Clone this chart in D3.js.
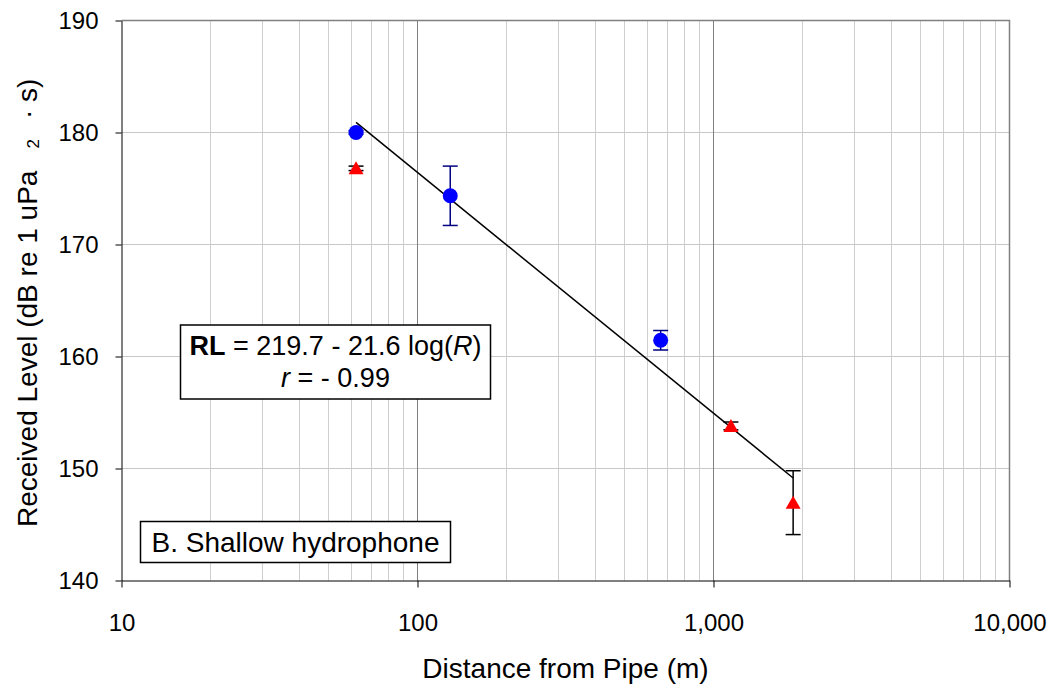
<!DOCTYPE html>
<html>
<head>
<meta charset="utf-8">
<script src="https://cdn.jsdelivr.net/npm/d3@7"></script>
<style>
  body { margin: 0; background: #fff; }
  svg { font-family: "Liberation Sans", Arial, sans-serif; }
</style>
</head>
<body>
<svg id="chart"></svg>
<script>
// blue circles (series 1)
var blueDist = [62, 129, 663];
var blueLevel = [180.0, 174.35, 161.45];
var blueErr = [0.15, 2.65, 0.87];

// red triangles (series 2)
var redDist = [62, 1145, 1858];
var redLevel = [176.8, 153.8, 146.95];
var redErr = [0.2, 0.35, 2.85];

// fitted line end points
var fitDist = [62, 1858];
var fitLevel = [180.9, 149.15];

var xTicks = [10, 100, 1000, 10000];
var yTicks = [140, 150, 160, 170, 180, 190];

var svgWidth = 1055, svgHeight = 688;
var margin = { top: 20.5, right: 45.5, bottom: 107.5, left: 121.5 };
var width = svgWidth - margin.left - margin.right;
var height = svgHeight - margin.top - margin.bottom;

var svg = d3.select('#chart')
    .attr("width", svgWidth)
    .attr("height", svgHeight);

var g = svg.append("g")
    .attr("transform", "translate(" + margin.left + "," + margin.top + ")");

var x = d3.scaleLog().domain([10, 10000]).range([0, width]);
var y = d3.scaleLinear().domain([140, 190]).range([height, 0]);

// minor vertical grid
var minor = x.ticks().filter(function(d) { return xTicks.indexOf(d) < 0; });
g.selectAll(".vminor")
    .data(minor)
    .enter().append("line")
    .attr("x1", function(d) { return Math.round(x(d)); })
    .attr("x2", function(d) { return Math.round(x(d)); })
    .attr("y1", 0).attr("y2", height)
    .attr("stroke", "#cfcfcf").attr("stroke-width", 1);

// horizontal grid
g.selectAll(".hgrid")
    .data(yTicks.slice(1, -1))
    .enter().append("line")
    .attr("x1", 0).attr("x2", width)
    .attr("y1", function(d) { return Math.round(y(d)); })
    .attr("y2", function(d) { return Math.round(y(d)); })
    .attr("stroke", "#c8c8c8").attr("stroke-width", 1);

// major vertical grid
g.selectAll(".vmajor")
    .data([100, 1000])
    .enter().append("line")
    .attr("x1", function(d) { return Math.round(x(d)); })
    .attr("x2", function(d) { return Math.round(x(d)); })
    .attr("y1", 0).attr("y2", height)
    .attr("stroke", "#808080").attr("stroke-width", 1);

// top and right frame
g.append("path")
    .attr("d", "M0,0H" + width + "V" + height)
    .attr("fill", "none")
    .attr("stroke", "#808080")
    .attr("stroke-width", 1.5);

// axes
var xAxis = g.append("g")
    .attr("transform", "translate(0," + height + ")")
    .call(d3.axisBottom(x).tickValues(xTicks).tickFormat(d3.format(","))
        .tickSize(7).tickSizeOuter(0).tickPadding(26));

var yAxis = g.append("g")
    .call(d3.axisLeft(y).tickValues(yTicks).tickSize(6).tickSizeOuter(0).tickPadding(17));

[xAxis, yAxis].forEach(function(a) {
    a.select(".domain").attr("stroke", "#000");
    a.selectAll(".tick line").attr("stroke", "#000");
    a.selectAll("text")
        .attr("fill", "#000")
        .style("font-size", "24px")
        .style("font-family", '"Liberation Sans", Arial, sans-serif');
});

// axis titles
g.append("text")
    .attr("x", width / 2)
    .attr("y", height + 97)
    .attr("text-anchor", "middle")
    .style("font-size", "28px")
    .text("Distance from Pipe (m)");

var yt = svg.append("text")
    .attr("transform", "translate(37,527) rotate(-90)")
    .attr("text-anchor", "start")
    .style("font-size", "28px");
yt.append("tspan").text("Received Level (dB re 1 uPa");
yt.append("tspan").attr("dx", 22).attr("dy", 2).style("font-size", "17px").text("2");
yt.append("tspan").attr("dx", 20).attr("dy", -2).text("·");
yt.append("tspan").text(" s)");

// fitted line
g.append("path")
    .datum(d3.zip(fitDist, fitLevel))
    .attr("fill", "none")
    .attr("stroke", "#000")
    .attr("stroke-width", 1.5)
    .attr("d", d3.line()
        .x(function(d) { return x(d[0]); })
        .y(function(d) { return y(d[1]); }));

function errorBars(dist, level, err, color) {
    var eg = g.append("g").attr("stroke", color).attr("stroke-width", 1.5);
    dist.forEach(function(d, i) {
        var cx = x(d), y1 = y(level[i] + err[i]), y2 = y(level[i] - err[i]);
        eg.append("line").attr("x1", cx).attr("x2", cx).attr("y1", y1).attr("y2", y2);
        eg.append("line").attr("x1", cx - 7.5).attr("x2", cx + 7.5).attr("y1", y1).attr("y2", y1);
        eg.append("line").attr("x1", cx - 7.5).attr("x2", cx + 7.5).attr("y1", y2).attr("y2", y2);
    });
}

errorBars(blueDist, blueLevel, blueErr, "#000080");
errorBars(redDist, redLevel, redErr, "#000");

// blue circles
g.selectAll(".blue")
    .data(d3.zip(blueDist, blueLevel))
    .enter().append("circle")
    .attr("cx", function(d) { return x(d[0]); })
    .attr("cy", function(d) { return y(d[1]); })
    .attr("r", 7.5)
    .attr("fill", "#0000ff");

// red triangles
g.selectAll(".red")
    .data(d3.zip(redDist, redLevel))
    .enter().append("path")
    .attr("transform", function(d) { return "translate(" + x(d[0]) + "," + y(d[1]) + ")"; })
    .attr("d", "M0,-7L7.5,6L-7.5,6Z")
    .attr("fill", "#ff0000");

// equation box
var eq = g.append("g").attr("transform", "translate(" + (180.5 - margin.left) + "," + (325 - margin.top) + ")");
eq.append("rect")
    .attr("width", 310).attr("height", 74)
    .attr("fill", "#fff").attr("stroke", "#000").attr("stroke-width", 1.5);
var l1 = eq.append("text").attr("x", 155).attr("y", 30)
    .attr("text-anchor", "middle").style("font-size", "27px");
l1.append("tspan").style("font-weight", "bold").text("RL");
l1.append("tspan").text(" = 219.7 - 21.6 log(");
l1.append("tspan").style("font-style", "italic").text("R");
l1.append("tspan").text(")");
var l2 = eq.append("text").attr("x", 155).attr("y", 62)
    .attr("text-anchor", "middle").style("font-size", "27px");
l2.append("tspan").style("font-style", "italic").text("r");
l2.append("tspan").text(" = - 0.99");

// panel label
var pl = g.append("g").attr("transform", "translate(" + (140.5 - margin.left) + "," + (521.5 - margin.top) + ")");
pl.append("rect")
    .attr("width", 310).attr("height", 41)
    .attr("fill", "#fff").attr("stroke", "#000").attr("stroke-width", 1.5);
pl.append("text").attr("x", 155).attr("y", 30)
    .attr("text-anchor", "middle").style("font-size", "28px")
    .text("B. Shallow hydrophone");
</script>
</body>
</html>
